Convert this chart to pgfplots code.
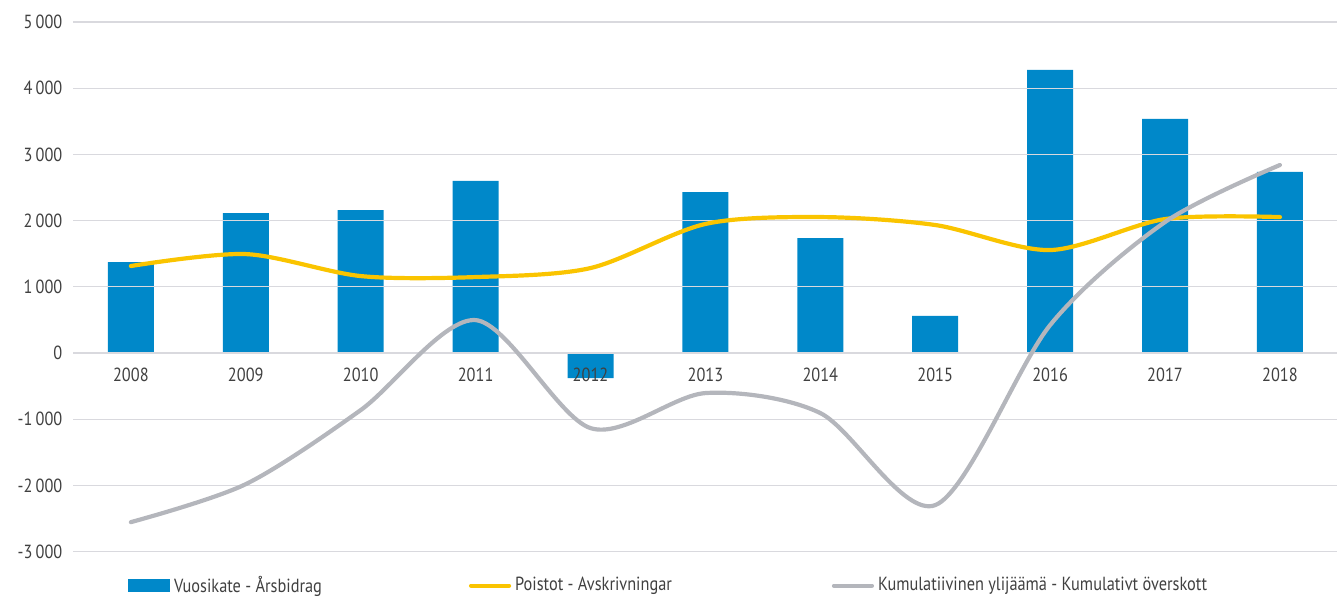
\documentclass[border=0pt]{standalone}
\usepackage{fontspec}
\setmainfont[FakeStretch=0.86]{PT Sans}
\usepackage{pgfplots}
\pgfplotsset{compat=1.18}
\pgfplotsset{layers/mylayers/.define layer set={axis background,axis grid,bars,axis ticks,axis lines,axis tick labels,main,axis descriptions,axis foreground}{}}
\definecolor{barblue}{RGB}{0,136,201}
\definecolor{lineyellow}{RGB}{250,196,0}
\definecolor{linegray}{RGB}{180,182,188}
\definecolor{gridgray}{RGB}{217,217,222}
\definecolor{txt}{RGB}{64,64,64}
\begin{document}
\begin{tikzpicture}
\begin{axis}[
  set layers=mylayers,
  scale only axis,
  width=632.25pt, height=265pt,
  xmin=-0.5, xmax=10.5,
  ymin=-3000, ymax=5000,
  ytick={-3000,-2000,...,5000},
  xtick={0,...,10},
  xticklabels={2008,2009,2010,2011,2012,2013,2014,2015,2016,2017,2018},
  axis x line=middle, axis y line=left,
  axis line style={draw=none},
  major tick length=0pt,
  ymajorgrids, grid style={gridgray, line width=0.6pt},
  tick label style={font=\fontsize{9.5}{11}\selectfont, text=txt},
  /pgf/number format/assume math mode=true,
  /pgf/number format/1000 sep={\,},
  yticklabel style={xshift=-2pt},
  xticklabel style={yshift=-4pt},
  clip=false,
  legend columns=3,
  legend style={draw=none, fill=none, at={(0.043,-0.064)}, anchor=west,
    font=\fontsize{9.5}{11}\selectfont, text=txt,
    /tikz/column 2/.style={column sep=71.5pt},
    /tikz/column 4/.style={column sep=78pt},
    inner sep=0pt},
  legend cell align=left,
]
\addplot[ybar, bar width=23pt, fill=barblue, draw=none, on layer=bars,
  legend image code/.code={\fill[barblue] (0pt,-3.4pt) rectangle (21pt,3.4pt);}]
  coordinates {(0,1375) (1,2115) (2,2160) (3,2600) (4,-378) (5,2430) (6,1737) (7,560) (8,4275) (9,3535) (10,2735)};
\addlegendentry{Vuosikate - Årsbidrag}
\addplot[smooth, lineyellow, line width=2.1pt, line cap=round,
  legend image code/.code={\draw[lineyellow, line width=2.1pt, line cap=round] (1pt,0pt) -- (20pt,0pt);}]
  coordinates {(0,1315) (1,1495) (2,1163) (3,1148) (4,1284) (5,1950) (6,2054) (7,1934) (8,1556) (9,2024) (10,2054)};
\addlegendentry{Poistot - Avskrivningar}
\addplot[smooth, linegray, line width=2.1pt, line cap=round,
  legend image code/.code={\draw[linegray, line width=2.1pt, line cap=round] (1pt,0pt) -- (20pt,0pt);}]
  coordinates {(0,-2553) (1,-1979) (2,-861) (3,498) (4,-1133) (5,-604) (6,-906) (7,-2296) (8,423) (9,1979) (10,2840)};
\addlegendentry{Kumulatiivinen ylijäämä - Kumulativt överskott}
\coordinate (bl) at (axis description cs:-0.0581,-0.083);
\coordinate (tr) at (axis description cs:1.0,1.0415);
\end{axis}
\path (bl) rectangle (tr);
\end{tikzpicture}
\end{document}
